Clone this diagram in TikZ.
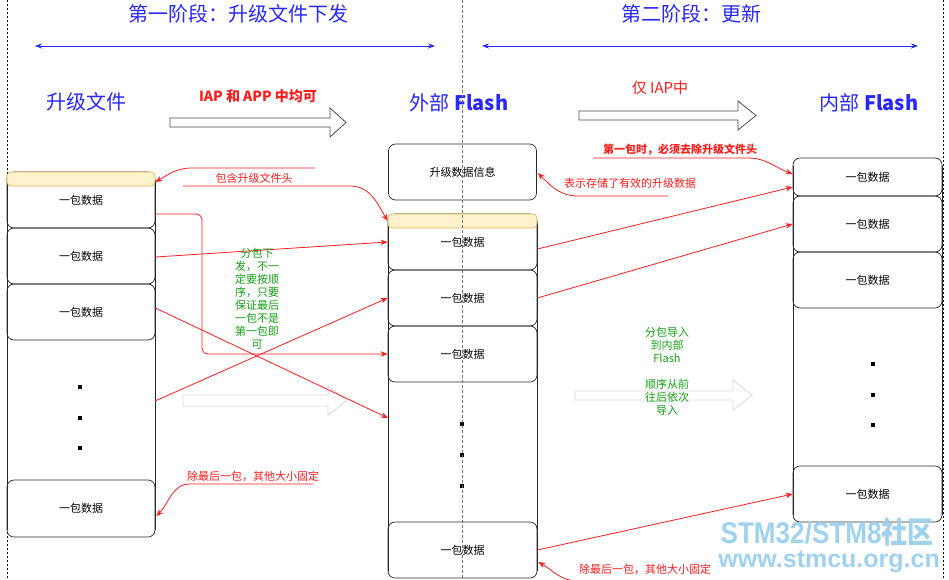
\documentclass[tikz,border=0pt]{standalone}
\usepackage{fontspec}
\usepackage{graphicx}
\setmainfont{Noto Sans CJK SC}
\newfontfamily\wmfont{Liberation Sans}
\newfontfamily\cjkfont{Noto Sans CJK SC}
\usetikzlibrary{arrows.meta}
\definecolor{ttlblue}{RGB}{40,40,250}
\definecolor{annred}{RGB}{255,30,30}
\definecolor{txtgreen}{RGB}{20,160,20}
\definecolor{hdrfill}{RGB}{255,242,204}
\definecolor{hdrline}{RGB}{214,182,86}
\definecolor{wmblue}{RGB}{160,210,238}
\definecolor{boxline}{RGB}{40,40,40}
\begin{document}
\begin{tikzpicture}[x=1pt,y=-1pt,
  databox/.style={draw=boxline, rounded corners=7pt, line width=0.7pt, minimum width=148, minimum height=56, inner sep=0pt, font=\fontsize{11}{13}\selectfont},
  hdrbox/.style={draw=hdrline, fill=hdrfill, rounded corners=4pt, line width=0.7pt, minimum width=148, minimum height=14, inner sep=0pt},
  colline/.style={draw=boxline, line width=0.7pt},
  conn/.style={draw=annred, line width=0.8pt, -{Stealth[length=7pt,width=5.5pt]}},
  note/.style={text=annred, font=\fontsize{11}{13}\selectfont, inner sep=0pt},
  gnote/.style={text=txtgreen, font=\fontsize{11}{13}\selectfont, inner sep=0pt, align=center},
  title/.style={text=ttlblue, font=\fontsize{20}{24}\selectfont, inner sep=0pt},
  span/.style={draw=ttlblue, line width=0.8pt, {Stealth[length=7pt,width=5pt]}-{Stealth[length=7pt,width=5pt]}},
  hollow/.style={draw=black!70, fill=white, line width=0.8pt},
  ghost/.style={draw=black!15, fill=white, line width=0.8pt},
  dotmark/.style={fill=black, inner sep=0pt, minimum size=3.5pt},
  wmark/.style={text=wmblue, inner sep=0pt}
]
\fill[white] (0,0) rectangle (949,579);
\useasboundingbox (0,0) rectangle (949,579);

% left dashed separator
\draw[black, line width=0.6pt, dash pattern=on 2pt off 2pt] (7,0) -- (7,579);

% titles
\node[title] (t1) at (238,14) {第一阶段：升级文件下发};
\node[title] (t2) at (691,14) {第二阶段：更新};
\coordinate (s1a) at (35,46); \coordinate (s1b) at (435,46);
\coordinate (s2a) at (482,46); \coordinate (s2b) at (918,46);
\draw[span] (s1a) -- (s1b);
\draw[span] (s2a) -- (s2b);

% column heads
\node[title] (h1) at (86,102) {升级文件};
\node[title] (h2) at (459,103) {外部 \textbf{Flash}};
\node[title] (h3) at (869,103) {内部 \textbf{Flash}};

\node[text=annred, font=\fontsize{14}{16}\selectfont\bfseries, inner sep=0pt] (p1) at (258,96) {IAP 和 APP 中均可};
\node[text=annred, font=\fontsize{15}{17}\selectfont, inner sep=0pt] (p2) at (660,88) {仅 IAP中};

% hollow arrows
\draw[hollow] (170,118) -- (330,118) -- (330,108) -- (346,122.5) -- (330,137) -- (330,127) -- (170,127) -- cycle;
\draw[hollow] (579,111) -- (738,111) -- (738,101) -- (756,115.5) -- (738,130) -- (738,120) -- (579,120) -- cycle;
\draw[ghost] (183,395) -- (328,395) -- (328,386) -- (347,400.5) -- (328,415) -- (328,406) -- (183,406) -- cycle;
\draw[ghost] (575,391) -- (733,391) -- (733,380) -- (752,395.5) -- (733,410) -- (733,400) -- (575,400) -- cycle;

% left column
\draw[colline] (7,180) -- (7,530);
\draw[colline] (155,180) -- (155,530);
\node[databox] (L1) at (81,200) {一包数据};
\node[databox] (L2) at (81,256) {一包数据};
\node[databox] (L3) at (81,312) {一包数据};
\node[databox, minimum height=57] (L4) at (81,508.5) {一包数据};
\node[hdrbox] (LH) at (81,179) {};
\node[dotmark] (Ld1) at (80,387) {};
\node[dotmark] (Ld2) at (80,418) {};
\node[dotmark] (Ld3) at (80,448) {};

% middle column
\node[databox] (Info) at (462.5,172) {升级数据信息};
\draw[colline] (388,222) -- (388,571);
\draw[colline] (537,222) -- (537,571);
\node[databox, minimum width=149] (M1) at (462.5,242) {一包数据};
\node[databox, minimum width=149] (M2) at (462.5,298) {一包数据};
\node[databox, minimum width=149] (M3) at (462.5,354) {一包数据};
\node[databox, minimum width=149] (M4) at (462.5,550) {一包数据};
\node[hdrbox, minimum width=149] (MH) at (462.5,221) {};
\node[dotmark] (Md1) at (462,424) {};
\node[dotmark] (Md2) at (462,455) {};
\node[dotmark] (Md3) at (462,486) {};

% right column
\draw[colline] (793,166) -- (793,515);
\draw[colline] (942,166) -- (942,515);
\node[databox, minimum width=149, minimum height=38] (R1) at (867.5,177) {一包数据};
\node[databox, minimum width=149] (R2) at (867.5,224) {一包数据};
\node[databox, minimum width=149] (R3) at (867.5,280) {一包数据};
\node[databox, minimum width=149] (R4) at (867.5,494) {一包数据};
\node[dotmark] (Rd1) at (873,364) {};
\node[dotmark] (Rd2) at (873,395) {};
\node[dotmark] (Rd3) at (873,425) {};

% middle dashed separator (on top)
\draw[black!55, line width=0.7pt, dash pattern=on 3pt off 2pt] (462,0) -- (462,579);

% connectors left -> middle
\coordinate (Mgap) at (388,418);
\coordinate (Lgap) at (155,401);
\draw[conn, rounded corners=6pt] ([yshift=-14pt]L1.east) -- (202,214) -- (202,354) -- (M3.west);
\draw[conn] ([yshift=-1pt]L2.east) -- (M1.west);
\draw[conn] ([yshift=4pt]L3.east) -- (Mgap);
\draw[conn] (Lgap) -- (M2.west);

% connectors middle -> right
\draw[conn] ([yshift=-7pt]M1.east) -- ([yshift=-10pt]R1.west);
\draw[conn] (M2.east) -- (R2.west);
\draw[conn] (M4.east) -- (R4.west);

% annotations
\node[note] (n1) at (254,178) {包含升级文件头};
\coordinate (n1a) at (315,168);
\coordinate (n1b) at (183,186);
\draw[conn] (n1a) -- (192,168) to[out=180,in=30] ([yshift=-3pt]LH.east);
\draw[conn] (n1b) -- (350,186) to[out=0,in=120] (MH.west);

\node[note] (n2) at (630,183) {表示存储了有效的升级数据};
\coordinate (n2a) at (668,196);
\draw[conn] (n2a) -- (578,196) to[out=180,in=-45] ([xshift=1pt,yshift=-1pt]Info.east);

\node[note, font=\fontsize{11}{13}\selectfont\bfseries] (n3) at (680,150) {第一包时，必须去除升级文件头};
\coordinate (n3a) at (593,158);
\draw[conn] (n3a) -- (748,158) to[out=0,in=160] ([yshift=3pt]R1.west);

\node[note] (n4) at (253,476) {除最后一包，其他大小固定};
\coordinate (n4a) at (313,484);
\draw[conn] (n4a) -- (190,484) to[out=180,in=45] ([xshift=1pt,yshift=-7.5pt]L4.east);

\node[note] (n5) at (645,569) {除最后一包，其他大小固定};
\coordinate (n5a) at (700,581);
\draw[conn] (n5a) -- (578,581) to[out=180,in=-30] ([xshift=1pt,yshift=-12pt]M4.east);

% green notes
\node[gnote] (g1) at (257,299) {分包下\\发，不一\\定要按顺\\序，只要\\保证最后\\一包不是\\第一包即\\可};
\node[gnote] (g2) at (667,371) {分包导入\\到内部\\Flash\\[13pt]顺序从前\\往后依次\\导入};

% watermark
\node[wmark, anchor=base east] (w1) at (934,543) {\scalebox{0.87}[1]{\fontsize{30}{32}\selectfont{\wmfont\bfseries STM32/STM8}{\cjkfont\bfseries 社区}}};
\node[wmark, anchor=base east] (w2) at (940,567) {\fontsize{25}{27}\selectfont\wmfont\bfseries www.stmcu.org.cn};

% right dashed separator (on top)
\draw[black, line width=0.6pt, dash pattern=on 2pt off 2pt] (943,0) -- (943,579);
\end{tikzpicture}
\end{document}
